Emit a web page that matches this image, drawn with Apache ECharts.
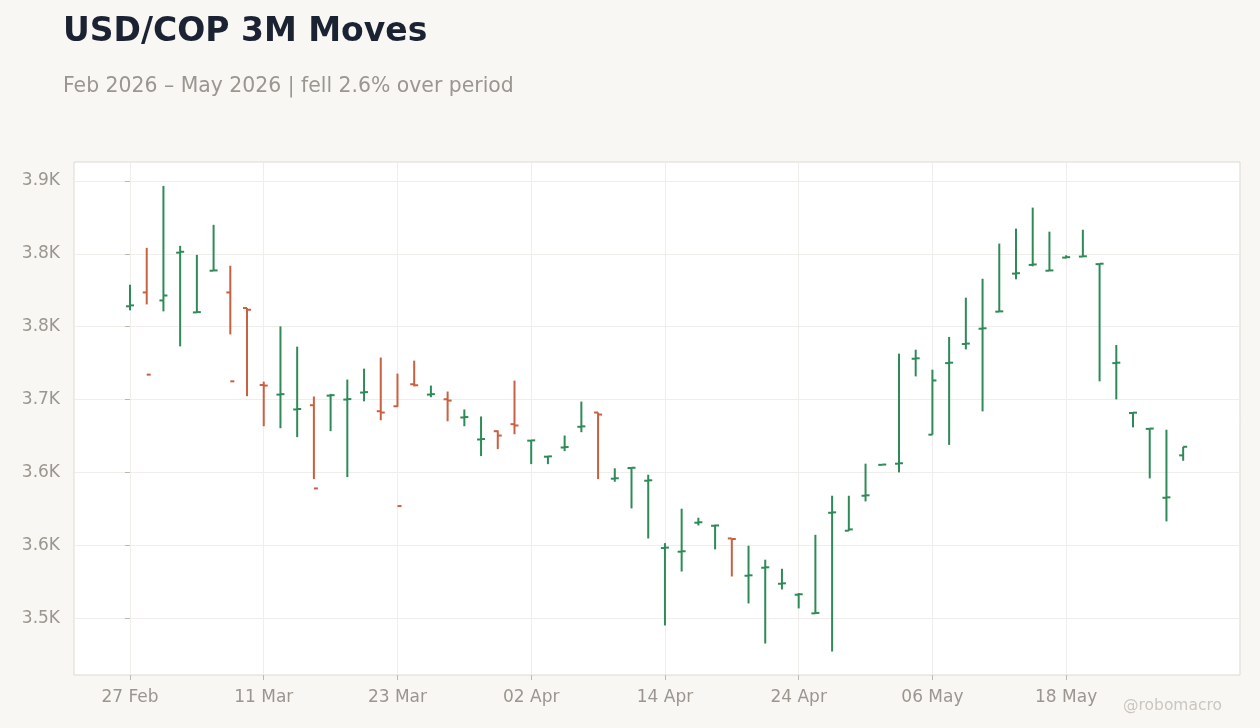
<!DOCTYPE html>
<html>
<head>
<meta charset="UTF-8">
<title>USD/COP 3M Moves</title>
<script src="https://cdn.jsdelivr.net/npm/echarts@6/dist/echarts.min.js"></script>
<style>
  html, body { margin: 0; padding: 0; background: #f8f7f4; }
  #main { width: 1260px; height: 728px; }
</style>
</head>
<body>
<div id="main"></div>
<script type="text/javascript">
// trading days (weekdays), 27 Feb - 27 May 2026
var dates = ['27 Feb','02 Mar','03 Mar','04 Mar','05 Mar','06 Mar','09 Mar','10 Mar','11 Mar','12 Mar',
  '13 Mar','16 Mar','17 Mar','18 Mar','19 Mar','20 Mar','23 Mar','24 Mar','25 Mar','26 Mar',
  '27 Mar','30 Mar','31 Mar','01 Apr','02 Apr','03 Apr','06 Apr','07 Apr','08 Apr','09 Apr',
  '10 Apr','13 Apr','14 Apr','15 Apr','16 Apr','17 Apr','20 Apr','21 Apr','22 Apr','23 Apr',
  '24 Apr','27 Apr','28 Apr','29 Apr','30 Apr','01 May','04 May','05 May','06 May','07 May',
  '08 May','11 May','12 May','13 May','14 May','15 May','18 May','19 May','20 May','21 May',
  '22 May','25 May','26 May','27 May'];

var opens = [3764.0,3773.5,3768.0,3800.8,3759.8,3788.4,3773.5,3762.8,3710.0,3703.4,
  3693.2,3696.1,3702.7,3700.0,3704.8,3692.0,3695.4,3710.5,3703.4,3700.2,
  3687.7,3672.6,3678.3,3683.1,3671.8,3660.8,3667.1,3681.3,3691.1,3645.7,
  3653.0,3644.3,3598.1,3595.6,3615.5,3613.4,3604.7,3579.1,3584.6,3573.6,
  3566.1,3553.3,3622.3,3610.0,3634.0,3655.2,3656.0,3728.0,3675.9,3725.0,
  3738.1,3748.6,3760.3,3786.4,3792.4,3788.4,3797.4,3798.1,3792.9,3725.0,
  3690.8,3679.9,3632.6,3661.7];

var highs = [3778.8,3804.1,3846.6,3805.5,3799.3,3819.9,3791.8,3762.8,3712.3,3750.2,
  3736.3,3702.1,3703.9,3713.7,3721.2,3728.8,3717.8,3726.7,3709.6,3705.5,
  3693.2,3688.4,3678.8,3713.0,3672.1,3661.2,3675.3,3698.6,3691.1,3652.8,
  3653.4,3648.4,3601.5,3625.1,3618.9,3614.1,3604.7,3599.7,3590.1,3583.9,
  3567.2,3607.2,3634.0,3634.0,3656.0,3655.5,3731.5,3734.2,3720.5,3743.0,
  3769.9,3782.9,3807.0,3817.3,3831.7,3815.2,3799.0,3816.5,3793.4,3737.4,
  3691.2,3680.2,3679.3,3667.6];

var lows = [3761.2,3765.3,3760.5,3736.5,3759.8,3788.4,3744.7,3702.3,3681.7,3680.3,
  3674.2,3645.4,3678.3,3646.8,3698.8,3685.8,3695.0,3709.1,3701.6,3685.1,
  3681.7,3661.2,3666.0,3676.2,3655.7,3655.7,3664.6,3677.6,3645.4,3643.6,
  3625.3,3604.7,3545.0,3582.0,3613.6,3597.2,3578.6,3560.1,3532.6,3569.7,
  3556.7,3553.0,3527.1,3610.0,3630.1,3655.0,3650.0,3715.9,3675.9,3668.9,
  3734.4,3691.9,3760.3,3782.5,3791.4,3788.2,3796.9,3798.0,3712.5,3700.1,
  3680.9,3645.9,3616.4,3658.0];

var closes = [3764.6,3717.1,3771.4,3801.4,3760.0,3788.6,3712.5,3761.6,3709.6,3703.7,
  3693.5,3639.0,3703.0,3700.3,3705.1,3691.1,3626.9,3709.8,3703.7,3699.3,
  3688.0,3672.9,3675.3,3682.2,3672.0,3661.0,3667.4,3681.6,3689.7,3646.0,
  3653.2,3644.6,3598.4,3595.9,3615.8,3613.6,3604.3,3579.4,3584.9,3573.9,
  3566.4,3553.6,3622.6,3610.9,3634.3,3655.4,3656.3,3728.3,3713.1,3725.3,
  3738.4,3748.9,3760.5,3786.7,3792.7,3788.6,3797.7,3798.3,3793.2,3725.3,
  3691.0,3680.1,3632.9,3667.6];

var yTicks = [3550, 3600, 3650, 3700, 3750, 3800, 3850];
var xTicks = [0, 8, 16, 24, 32, 40, 48, 56];

var UP = '#2e8b57', DOWN = '#c9603f';
var LABEL = '#9b968f', GRIDLINE = '#f0eeea', BORDER = '#ddd8d1';

var myChart = echarts.init(document.getElementById('main'));

var ohlc = dates.map(function (d, i) {
  return [i, opens[i], closes[i], lows[i], highs[i]];
});

// OHLC bar: high-low stem, open tick to the left, close tick to the right
function renderOhlc(params, api) {
  var x = api.value(0);
  var o = api.value(1), c = api.value(2);
  var po = api.coord([x, o]);
  var pc = api.coord([x, c]);
  var pl = api.coord([x, api.value(3)]);
  var ph = api.coord([x, api.value(4)]);
  var color = c >= o ? UP : DOWN;
  var st = { stroke: color, lineWidth: 2 };
  return {
    type: 'group',
    children: [
      { type: 'line', shape: { x1: ph[0], y1: ph[1], x2: pl[0], y2: pl[1] }, style: st },
      { type: 'line', shape: { x1: po[0] - 4, y1: po[1], x2: po[0], y2: po[1] }, style: st },
      { type: 'line', shape: { x1: pc[0], y1: pc[1], x2: pc[0] + 4, y2: pc[1] }, style: st }
    ]
  };
}

var option = {
  backgroundColor: '#f8f7f4',
  animation: false,
  textStyle: { fontFamily: 'DejaVu Sans' },
  title: [
    {
      text: 'USD/COP 3M Moves',
      left: 63, top: 16, padding: 0,
      textStyle: { fontSize: 33, fontWeight: 'bold', color: '#1b2333', fontFamily: 'DejaVu Sans' }
    },
    {
      text: 'Feb 2026 \u2013 May 2026 | fell 2.6% over period',
      left: 63, top: 77, padding: 0,
      textStyle: { fontSize: 20.4, fontWeight: 'normal', color: '#9b968f', fontFamily: 'DejaVu Sans' }
    }
  ],
  grid: {
    left: 74, right: 20, top: 162, bottom: 53,
    show: true, backgroundColor: '#ffffff', borderColor: BORDER, borderWidth: 1
  },
  xAxis: {
    type: 'value',
    min: -3.35, max: 66.4,
    axisLine: { show: false },
    axisTick: { show: true, length: 5, customValues: xTicks, lineStyle: { color: '#bdb8b1' } },
    axisLabel: {
      customValues: xTicks, color: LABEL, fontSize: 17, margin: 14,
      formatter: function (v) { return dates[v] || ''; }
    },
    splitLine: { show: true, lineStyle: { color: GRIDLINE, width: 1 } }
  },
  yAxis: {
    type: 'value',
    min: 3511, max: 3863,
    axisLine: { show: false },
    axisTick: { show: true, length: 5, customValues: yTicks, lineStyle: { color: '#bdb8b1' } },
    axisLabel: {
      customValues: yTicks, color: LABEL, fontSize: 17, margin: 14, padding: [4, 0, 0, 0],
      formatter: function (v) { return (v / 1000).toFixed(1) + 'K'; }
    },
    splitLine: { show: true, lineStyle: { color: GRIDLINE, width: 1 } }
  },
  graphic: [
    {
      type: 'text', right: 38, top: 698,
      style: { text: '@robomacro', fill: '#cbc6bf', font: '15.5px "DejaVu Sans"' }
    }
  ],
  series: [{
    name: 'USD/COP',
    type: 'custom',
    renderItem: renderOhlc,
    encode: { x: 0, y: [1, 2, 3, 4] },
    data: ohlc
  }]
};

myChart.setOption(option);
</script>
</body>
</html>
